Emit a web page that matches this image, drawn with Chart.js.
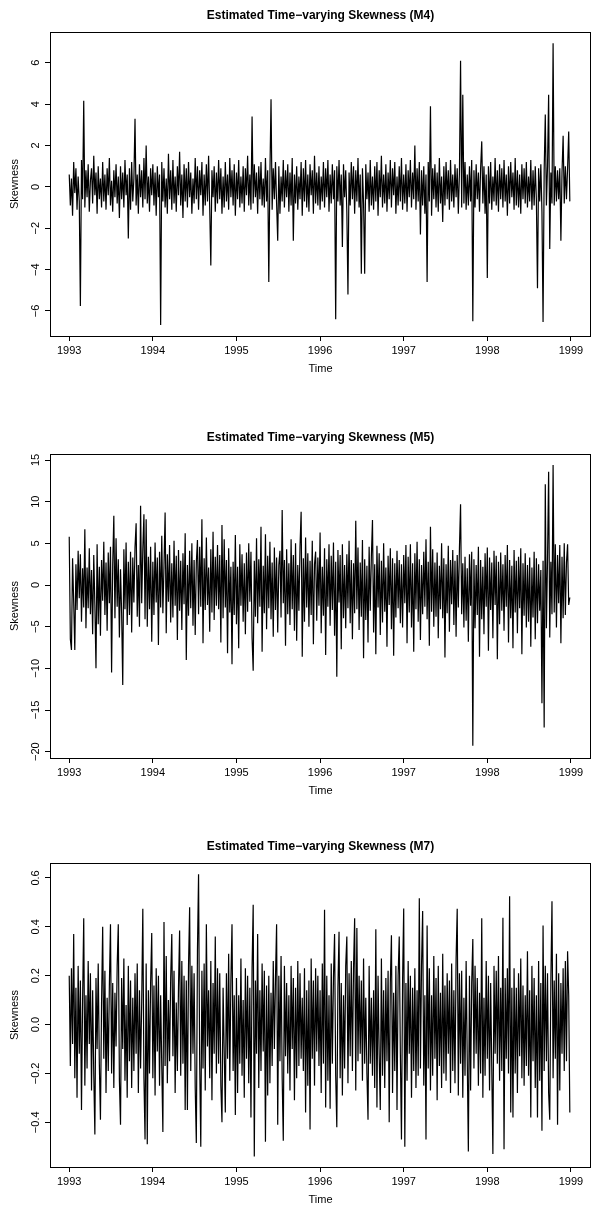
<!DOCTYPE html>
<html>
<head>
<meta charset="utf-8">
<script src="https://cdn.jsdelivr.net/npm/chart.js@4.4.0/dist/chart.umd.min.js"></script>
<style>
  html, body { margin: 0; padding: 0; background: #fff; }
  .panel { position: absolute; left: 0; width: 597px; height: 384px; }
</style>
</head>
<body>
<div class="panel" style="top:0px"><canvas id="m4"></canvas></div>
<div class="panel" style="top:422px"><canvas id="m5"></canvas></div>
<div class="panel" style="top:831px"><canvas id="m7"></canvas></div>
<script>
// series start (year) and points per year
const start = 1993;
const freq = 75;
const yearTicks = [1993, 1994, 1995, 1996, 1997, 1998, 1999];
const timeRange = [1992.77, 1999.24];

// M4 skewness estimates (one row = 0.2 year)
const m4 = [
  0.6,-0.9,0.4,-1.4,1.2,-0.3,0.9,-1.1,0.5,-0.7,-5.76,1.3,-0.6,4.16,-1.0,
  0.8,-0.5,1.1,-1.2,0.3,0.9,-0.8,1.5,-0.4,0.7,-1.3,1.0,-0.6,0.4,-1.0,
  1.2,-0.7,0.6,-1.1,0.9,-0.4,1.4,-0.9,0.3,-1.2,0.8,-0.5,1.1,-0.8,0.5,
  -1.5,1.0,-0.6,0.7,-1.0,1.3,-0.4,0.6,-2.5,0.9,-1.1,1.2,-0.7,0.4,3.3,
  -0.9,0.6,-1.3,1.1,-0.5,0.8,-1.0,1.4,-0.6,2.0,-0.8,0.5,-1.2,0.9,-0.4,
  1.1,-0.9,0.7,-1.4,1.0,-0.5,0.6,-6.68,1.2,-0.7,0.9,-1.0,0.4,-1.3,1.6,
  -0.6,0.8,-1.1,1.3,-0.8,0.5,-1.2,1.0,-0.4,1.7,-0.9,0.6,-1.5,1.1,-0.7,
  0.9,-1.0,1.2,-0.5,0.7,-1.3,0.4,-0.8,1.4,-0.6,1.0,-1.1,0.8,-0.4,1.2,
  -1.4,0.6,-0.9,1.1,-0.7,1.5,-1.0,-3.8,0.8,-0.5,1.0,-1.2,0.7,-0.8,1.3,
  -0.6,0.9,-1.3,0.5,-1.0,1.2,-0.7,0.6,-1.1,1.4,-0.5,0.8,-0.9,1.1,-1.4,
  0.7,-0.6,1.3,-1.0,0.5,-0.8,1.0,-1.2,0.9,-0.4,1.5,-0.9,0.6,-1.1,3.4,
  -0.8,1.1,-0.5,0.7,-1.3,1.0,-0.6,1.2,-0.9,0.4,-1.0,1.4,-0.7,0.8,-4.6,
  0.6,4.24,-1.1,0.9,-0.6,1.2,-0.8,-2.6,1.0,-1.3,0.5,-0.7,1.3,-1.0,0.8,
  -0.5,1.1,-1.2,0.7,-0.9,1.4,-2.6,0.6,-0.8,1.0,-1.1,0.5,-0.6,1.2,-1.4,
  0.9,-0.7,1.3,-1.0,0.6,-1.2,1.1,-0.4,0.8,-1.3,1.5,-0.8,0.7,-0.9,1.0,
  -1.1,0.5,-0.7,1.2,-1.0,0.9,-0.5,1.3,-1.2,0.6,-0.8,1.1,-0.6,0.8,-6.4,
  1.0,-0.7,1.3,-0.9,0.6,-2.9,1.1,-0.5,0.8,-1.2,-5.2,0.7,-0.9,1.2,-0.6,
  1.0,-1.3,0.8,-0.7,1.4,-1.0,0.6,-4.2,0.9,-0.8,-4.2,1.1,-0.6,0.7,-1.2,
  1.3,-0.9,0.5,-1.1,1.0,-0.7,1.2,-1.4,0.8,-0.5,1.5,-1.0,0.6,-0.8,1.1,
  -1.2,0.7,-0.6,1.3,-1.0,0.9,-0.4,1.2,-1.3,0.5,-0.9,1.0,-0.7,1.4,-1.1,
  0.6,-0.8,1.1,-1.2,0.8,-0.5,1.3,-1.0,0.7,-0.6,2.0,-1.1,0.9,-0.7,1.2,
  -2.3,0.8,-0.9,1.0,-1.3,0.6,-4.6,1.2,-0.7,3.9,-1.4,0.9,-0.6,1.1,-1.0,
  0.7,-1.2,1.4,-0.8,0.5,-1.7,1.0,-0.9,1.2,-0.6,0.8,-1.1,1.3,-0.7,0.6,
  -1.0,1.1,-0.5,0.9,-1.3,0.7,6.1,-1.0,4.45,-0.8,1.2,-1.1,0.6,-0.9,1.0,
  -0.7,1.3,-6.5,0.8,-1.0,1.1,-0.6,0.7,-1.2,0.9,2.2,-0.8,1.0,-1.3,0.6,
  -4.4,1.0,-0.8,1.2,-1.1,0.5,-0.7,1.4,-0.9,0.8,-1.2,1.1,-0.6,0.9,-1.0,
  1.3,-0.7,0.6,-1.4,1.0,-0.8,1.2,-0.5,0.7,-1.1,1.4,-0.9,0.8,-1.0,0.6,
  -1.3,1.1,-0.6,0.9,-0.8,1.2,-1.0,0.5,-0.7,1.3,-1.1,0.8,-0.9,1.0,-0.6,
  -4.9,0.9,-0.7,1.1,-1.2,-6.53,0.8,3.5,-0.9,1.0,4.45,-3.0,0.7,-0.8,6.95,
  -0.9,1.0,-0.7,0.8,-0.6,0.9,-2.6,0.7,2.47,-0.8,1.0,-0.6,0.9,2.68,-0.7
];

// M5 skewness estimates
const m5 = [
  5.8,-6.5,-7.8,3.2,-2.1,-7.8,2.5,-3.0,4.1,-1.6,3.7,-4.4,2.0,-2.7,6.7,
  -5.2,2.1,-2.8,4.4,-3.5,1.8,-5.9,3.6,-2.4,-10.0,4.9,-4.7,2.2,-6.1,3.0,
  -1.9,5.2,-3.6,2.7,-5.5,3.9,-2.2,4.6,-10.5,2.4,8.3,-4.0,5.6,-2.6,3.1,
  -6.3,1.9,-3.4,-12.0,4.3,-2.9,5.1,-4.8,2.8,-3.6,4.0,-5.7,3.3,-2.1,4.5,
  7.4,-3.8,2.4,-5.0,9.5,-2.2,4.3,8.5,-4.1,7.9,-5.0,3.4,-2.9,4.6,-6.8,
  2.8,-3.6,5.1,-2.1,3.3,-7.2,4.0,-2.7,5.9,-3.4,2.3,8.7,-5.8,3.7,-2.0,
  4.8,-4.5,2.6,-3.9,5.3,-2.5,3.5,-6.6,4.2,-3.1,2.9,-5.4,3.8,-2.3,6.2,
  -9.0,2.4,-3.7,4.1,-2.8,5.0,-4.9,3.0,-6.0,2.7,5.4,-3.5,4.6,-2.6,7.9,
  -7.0,3.2,-3.0,5.7,-2.4,2.1,-5.6,4.3,-3.3,6.4,-4.2,3.4,-2.5,4.8,-2.9,
  3.6,-6.9,7.2,-4.0,5.5,-2.7,3.0,-8.2,4.4,-3.3,2.2,-9.5,2.8,-3.6,6.0,
  -4.7,2.2,-7.6,4.9,-2.5,3.7,-4.4,2.6,-5.9,3.9,-3.2,5.0,-2.0,4.0,-6.4,
  -10.3,2.9,-3.8,5.6,-4.6,3.1,-2.6,7.0,-8.0,2.3,-3.4,6.1,-5.3,3.5,-2.8,
  5.2,-4.1,2.7,-6.2,4.5,-3.0,3.3,-5.7,2.4,4.1,-3.9,9.0,-2.2,3.0,-7.3,
  4.3,-3.5,2.6,-4.8,5.5,-2.9,3.6,-5.5,5.0,-6.7,2.4,-3.1,4.6,8.8,-8.6,
  3.2,-4.4,5.7,-2.7,3.8,-5.0,2.9,-3.6,5.3,-7.1,2.5,4.0,-4.3,3.3,-2.5,
  6.3,-5.8,2.2,-3.7,4.4,-8.4,3.1,-2.6,4.9,-4.9,3.5,-3.0,5.1,-6.1,2.8,
  -11.0,4.2,-2.1,3.6,-7.7,4.9,-4.0,2.4,-5.2,3.7,-2.8,5.3,-4.6,3.0,-6.5,
  2.6,-3.4,7.7,-2.9,4.5,-5.4,2.7,-3.8,5.4,-8.8,3.1,-4.2,2.3,-6.9,4.6,
  -3.1,3.4,7.8,-5.7,2.5,-8.3,4.7,-2.7,3.8,-6.0,2.9,-4.5,5.0,-3.2,2.1,
  -7.4,3.5,-2.4,4.4,-5.3,3.2,-8.5,2.6,-3.9,4.1,-2.8,3.0,-4.6,2.5,-5.1,
  3.6,-2.2,4.8,-7.0,3.4,-3.3,4.9,-5.1,2.6,-8.0,3.8,-2.9,5.2,-4.4,3.1,
  -6.6,2.4,-3.5,4.0,-2.6,5.5,-4.1,2.8,-7.3,7.0,-3.2,4.3,-5.0,2.7,-3.8,
  3.9,-6.4,2.3,-2.9,5.0,-4.0,3.2,-8.7,2.5,-3.4,4.7,-5.6,3.0,-2.3,4.2,
  -4.8,2.9,-6.2,3.6,-2.7,4.4,9.7,-3.5,2.6,-5.1,3.4,-4.3,2.0,-6.8,3.7,
  -2.5,4.0,-19.3,3.1,-5.2,2.4,-3.6,4.6,-8.6,3.0,-4.1,2.2,-5.9,3.8,-2.6,
  4.5,-7.9,3.3,-3.0,2.7,-6.4,4.1,-2.4,3.5,-8.9,2.8,-4.7,3.9,-3.1,2.5,
  -5.5,3.6,-2.6,4.8,-6.9,3.0,-4.0,2.3,-7.6,4.2,-3.3,2.9,-5.8,3.4,-2.8,
  4.4,-8.3,2.6,-3.7,3.8,-5.1,2.4,-4.4,3.3,-7.4,2.1,-3.9,4.0,-6.5,3.2,
  -4.6,2.5,-3.1,1.8,-14.2,2.9,-17.1,12.1,-5.2,3.0,13.6,-6.3,2.8,-3.5,14.4,
  -3.3,4.9,-5.1,3.6,-2.2,4.8,-7.0,3.4,-4.0,5.0,-3.6,2.7,4.9,-2.4,-1.5
];

// M7 skewness estimates
const m7 = [
  0.20,-0.17,0.23,-0.08,0.37,-0.22,0.15,-0.30,0.24,-0.12,0.18,-0.35,0.10,0.435,-0.25,
  0.12,-0.18,0.26,-0.08,0.21,-0.27,0.14,-0.20,-0.45,0.19,-0.10,0.25,-0.16,-0.39,0.09,
  0.40,-0.14,0.22,-0.28,0.11,-0.19,0.16,0.41,-0.20,0.17,-0.26,0.13,-0.09,0.24,0.41,
  -0.23,-0.41,0.19,-0.10,0.27,-0.23,0.08,-0.30,0.24,-0.15,0.18,-0.26,0.11,-0.19,0.21,
  -0.12,0.25,-0.28,0.14,-0.18,0.09,0.474,-0.22,-0.47,0.25,-0.49,0.14,-0.20,0.17,0.375,
  -0.22,0.16,-0.29,0.23,-0.11,0.20,-0.25,0.12,-0.17,-0.44,0.42,-0.17,0.28,-0.24,0.10,
  -0.15,0.19,0.37,-0.13,0.22,-0.28,0.09,-0.19,0.15,0.385,-0.21,0.26,-0.16,0.20,-0.35,
  0.18,-0.35,0.24,0.48,-0.19,0.24,-0.12,0.21,-0.26,-0.485,0.30,0.615,-0.15,-0.50,0.22,
  -0.18,0.25,-0.27,0.41,-0.09,0.14,-0.22,0.26,-0.31,0.17,-0.12,0.36,-0.20,0.23,-0.16,
  0.21,-0.25,-0.40,0.15,-0.11,-0.36,0.21,-0.14,0.29,-0.23,0.18,0.41,-0.19,0.12,-0.37,
  0.19,-0.28,0.12,-0.16,0.27,-0.21,0.10,-0.30,0.23,-0.14,0.20,-0.24,0.15,-0.38,0.23,
  0.49,-0.54,0.18,-0.12,0.37,-0.26,0.14,-0.19,0.25,-0.11,0.22,-0.48,0.16,-0.29,0.20,
  -0.24,0.13,-0.17,0.26,-0.10,0.19,0.41,-0.41,0.20,-0.15,0.28,-0.22,-0.476,0.24,-0.13,
  0.17,-0.20,0.12,-0.27,0.24,-0.10,0.19,-0.31,0.15,-0.22,0.26,-0.17,0.21,-0.14,0.11,
  -0.19,0.23,-0.36,0.14,-0.25,0.18,-0.43,0.27,-0.14,0.18,-0.25,0.23,-0.11,0.20,-0.17,
  0.14,-0.28,0.25,-0.16,0.47,-0.34,0.20,-0.23,0.12,-0.345,0.25,-0.16,0.19,0.37,-0.21,
  -0.42,0.15,0.38,-0.22,0.17,-0.29,0.12,-0.18,0.24,0.36,-0.24,0.21,-0.13,0.26,-0.19,
  0.23,0.435,-0.27,0.395,-0.15,0.20,-0.12,0.18,-0.23,0.27,-0.16,0.11,-0.20,-0.39,0.24,
  -0.16,0.11,-0.21,0.14,-0.26,0.39,-0.34,0.20,-0.12,-0.35,0.27,-0.21,0.14,-0.26,0.19,
  -0.15,0.22,-0.40,0.17,0.365,-0.28,0.13,-0.19,0.24,-0.35,0.20,0.36,-0.12,-0.47,0.18,
  0.475,-0.50,0.17,-0.23,0.26,-0.12,0.20,-0.30,0.15,-0.19,0.23,-0.26,0.14,-0.21,0.517,
  -0.18,0.24,0.465,-0.25,0.12,-0.47,0.405,-0.18,0.23,-0.27,0.12,-0.21,0.28,-0.14,0.19,
  -0.31,0.24,-0.17,0.13,-0.26,0.29,-0.20,0.16,-0.23,0.21,-0.12,0.18,-0.28,0.25,-0.19,
  0.14,-0.24,0.27,0.474,-0.29,0.21,-0.16,0.22,-0.30,0.11,-0.21,0.26,-0.14,-0.52,0.20,
  -0.27,0.17,0.35,-0.18,0.24,-0.12,0.19,-0.25,0.13,-0.20,0.435,-0.30,0.11,-0.21,0.26,
  -0.14,0.20,-0.27,0.17,-0.18,-0.53,0.24,-0.12,0.22,-0.16,0.28,-0.23,0.15,-0.19,0.437,
  -0.51,0.19,-0.14,0.23,-0.20,0.525,-0.36,0.15,-0.38,0.23,-0.20,0.15,-0.28,0.21,-0.13,
  0.27,-0.22,0.16,-0.25,0.12,-0.17,0.30,-0.21,0.14,-0.38,0.24,-0.15,0.19,-0.26,0.12,
  -0.38,0.26,-0.23,0.17,-0.435,0.405,-0.19,0.24,-0.15,0.21,-0.28,-0.39,0.18,0.504,-0.22,
  0.18,-0.14,0.29,-0.41,0.21,-0.27,0.17,-0.12,0.23,-0.19,0.26,-0.15,0.30,0.12,-0.36
];

const panels = [
  { id: 'm4', title: 'Estimated Time\u2212varying Skewness (M4)', values: m4, yRange: [-7.21, 7.49], yStep: 2, digits: 0 },
  { id: 'm5', title: 'Estimated Time\u2212varying Skewness (M5)', values: m5, yRange: [-20.76, 15.72], yStep: 5, digits: 0 },
  { id: 'm7', title: 'Estimated Time\u2212varying Skewness (M7)', values: m7, yRange: [-0.583, 0.661], yStep: 0.2, digits: 1 }
];

const FONT = '"Liberation Sans", Arial, Helvetica, sans-serif';

function fmtNum(v, digits) {
  let s = Math.abs(v) < 1e-9 ? (0).toFixed(digits) : v.toFixed(digits);
  return s.replace('-', '\u2212');
}

// box around plot region + rotated y tick labels, R style
const rStyle = {
  id: 'rStyle',
  afterDraw(chart) {
    const ctx = chart.ctx;
    const a = chart.chartArea;
    const ys = chart.scales.y;
    ctx.save();
    ctx.strokeStyle = '#000';
    ctx.lineWidth = 1;
    ctx.strokeRect(Math.round(a.left) + 0.5, Math.round(a.top) + 0.5,
                   Math.round(a.right - a.left) - 1, Math.round(a.bottom - a.top));
    ctx.fillStyle = '#000';
    ctx.font = '11px ' + FONT;
    ctx.textAlign = 'center';
    ctx.textBaseline = 'middle';
    ys.ticks.forEach(function (t) {
      const y = ys.getPixelForValue(t.value);
      ctx.save();
      ctx.translate(36, y);
      ctx.rotate(-Math.PI / 2);
      ctx.fillText(t.label, 0, 0);
      ctx.restore();
    });
    ctx.restore();
  }
};

panels.forEach(function (p) {
  const points = p.values.map(function (v, i) { return { x: start + i / freq, y: v }; });
  new Chart(document.getElementById(p.id), {
    type: 'line',
    data: {
      datasets: [{
        data: points,
        borderColor: '#000',
        borderWidth: 1.2,
        pointRadius: 0,
        tension: 0,
        fill: false
      }]
    },
    options: {
      responsive: true,
      maintainAspectRatio: false,
      animation: false,
      events: [],
      layout: { padding: { left: 0, right: 6, top: 0, bottom: 0 } },
      plugins: {
        legend: { display: false },
        tooltip: { enabled: false },
        title: {
          display: true,
          text: p.title,
          fullSize: false,
          color: '#000',
          font: { family: FONT, size: 12, weight: 'bold' },
          padding: { top: 8, bottom: 9.6 }
        }
      },
      scales: {
        x: {
          type: 'linear',
          min: timeRange[0],
          max: timeRange[1],
          afterFit: function (s) { s.height = 48; },
          afterBuildTicks: function (s) { s.ticks = yearTicks.map(function (v) { return { value: v }; }); },
          grid: { display: true, drawOnChartArea: false, drawTicks: true, tickLength: 5, color: '#000' },
          border: { display: false },
          ticks: {
            color: '#000',
            font: { family: FONT, size: 11 },
            padding: 3,
            maxRotation: 0,
            autoSkip: false,
            callback: function (v) { return String(v); }
          },
          title: {
            display: true,
            text: 'Time',
            color: '#000',
            font: { family: FONT, size: 11 },
            padding: { top: 0, bottom: 8.4 }
          }
        },
        y: {
          type: 'linear',
          min: p.yRange[0],
          max: p.yRange[1],
          afterFit: function (s) { s.width = 50; },
          grid: { display: true, drawOnChartArea: false, drawTicks: true, tickLength: 5, color: '#000' },
          border: { display: false },
          ticks: {
            display: false,
            stepSize: p.yStep,
            includeBounds: false,
            callback: function (v) { return fmtNum(v, p.digits); }
          },
          title: {
            display: true,
            text: 'Skewness',
            color: '#000',
            font: { family: FONT, size: 11 },
            padding: { top: 8.4, bottom: 0 }
          }
        }
      }
    },
    plugins: [rStyle]
  });
});
</script>
</body>
</html>
